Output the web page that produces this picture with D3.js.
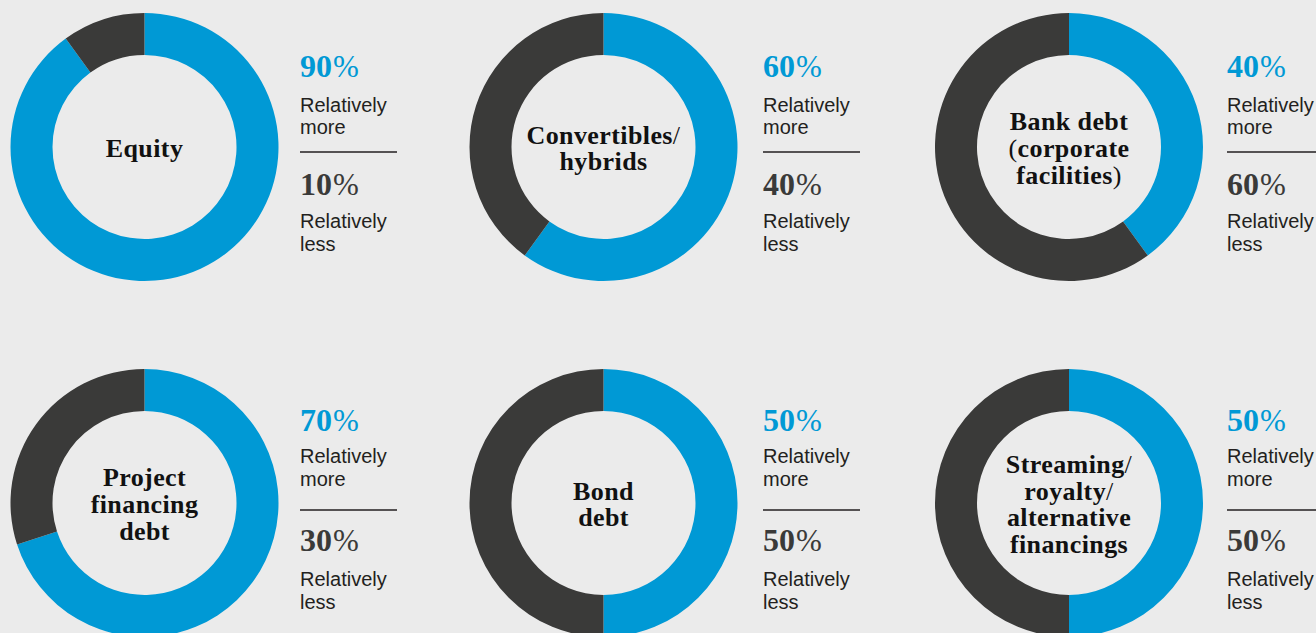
<!DOCTYPE html>
<html>
<head>
<meta charset="utf-8">
<script src="https://cdn.jsdelivr.net/npm/d3@7"></script>
<style>
  body { margin: 0; background: #ebebeb; overflow: hidden; }
  svg { display: block; }
  .pct { font-family: "Liberation Serif", serif; font-weight: bold; font-size: 32px; }
  .pct .sign { font-weight: normal; font-size: 31px; }
  .lbl { font-family: "Liberation Sans", Arial, sans-serif; font-size: 20px; fill: #231f20; }
  .name { font-family: "Liberation Serif", serif; font-weight: bold; font-size: 26px; fill: #111; letter-spacing: 0.4px; }
  .name .thin { font-weight: normal; }
</style>
</head>
<body>
<script>
// data
var categories = [
  ["Equity"],
  ["Convertibles/", "hybrids"],
  ["Bank debt", "(corporate", "facilities)"],
  ["Project", "financing", "debt"],
  ["Bond", "debt"],
  ["Streaming/", "royalty/", "alternative", "financings"]
];
var moreValues = [90, 60, 40, 70, 50, 50];
var lessValues = [10, 40, 60, 30, 50, 50];
var moreLabel = ["Relatively", "more"];
var lessLabel = ["Relatively", "less"];

var width = 1316, height = 633;
var blue = "#0099d5", dark = "#3a3a39";

var svg = d3.select("body").append("svg")
  .attr("width", width)
  .attr("height", height);

var colX = d3.scaleOrdinal().domain([0, 1, 2]).range([144.5, 603.5, 1069]);
var textX = d3.scaleOrdinal().domain([0, 1, 2]).range([300, 763, 1227]);
var rowY = d3.scaleOrdinal().domain([0, 1]).range([147, 503]);

// legend baselines per row: [pct more, label more, rule, pct less, label less]
var legendY = [[77, 111.5, 152, 195, 228], [431, 463, 510, 551, 586]];

var pie = d3.pie().sort(null).value(function(d){ return d.v; });
var arc = d3.arc().innerRadius(92).outerRadius(134);

categories.forEach(function(name, i){
  var col = i % 3, row = Math.floor(i / 3);
  var cx = colX(col), cy = rowY(row);
  var g = svg.append("g").attr("transform", "translate(" + cx + "," + cy + ")");

  g.selectAll("path")
    .data(pie([{v: moreValues[i], c: blue}, {v: lessValues[i], c: dark}]))
    .enter().append("path")
    .attr("d", arc)
    .attr("fill", function(d){ return d.data.c; });

  // label in the hole
  var lh = 26.8;
  var t = g.append("text").attr("class", "name").attr("text-anchor", "middle");
  name.forEach(function(line, k){
    var ts = t.append("tspan")
      .attr("x", 0)
      .attr("y", (k - (name.length - 1) / 2) * lh + 10);
    // slashes and brackets are set thin
    line.split(/([\/()])/).forEach(function(part){
      if (!part) return;
      ts.append("tspan")
        .attr("class", /[\/()]/.test(part) ? "thin" : null)
        .text(part);
    });
  });

  // side legend
  var ly = legendY[row];
  var side = svg.append("g").attr("transform", "translate(" + textX(col) + ",0)");

  function pct(y, val, col){
    var p = side.append("text").attr("class", "pct").attr("y", y).attr("fill", col);
    p.append("tspan").text(val);
    p.append("tspan").attr("class", "sign").attr("dx", 1).text("%");
  }
  function lbl(y, lines){
    lines.forEach(function(l, k){
      side.append("text").attr("class", "lbl").attr("y", y + k * 22.5).text(l);
    });
  }

  pct(ly[0], moreValues[i], blue);
  lbl(ly[1], moreLabel);
  side.append("line")
    .attr("x1", 0).attr("x2", 97)
    .attr("y1", ly[2]).attr("y2", ly[2])
    .attr("stroke", "#231f20").attr("stroke-width", 1.3);
  pct(ly[3], lessValues[i], dark);
  lbl(ly[4], lessLabel);
});
</script>
</body>
</html>
